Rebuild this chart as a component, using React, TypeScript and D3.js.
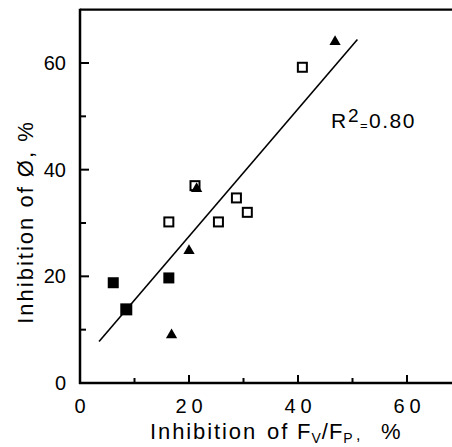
import React from "react";
import * as d3 from "d3";

const filledSquareX = [6.1, 8.4, 16.3];
const filledSquareY = [18.8, 13.9, 19.7];
const triangleX = [16.8, 20.0, 21.4, 46.8];
const triangleY = [9.0, 24.8, 36.4, 64.0];
const openSquareX = [16.3, 21.1, 25.4, 28.7, 30.7, 40.8];
const openSquareY = [30.2, 37.0, 30.2, 34.7, 32.0, 59.2];
const fitX = [3.5, 50.9];
const fitY = [7.8, 64.4];
const majorTicks = [0, 20, 40, 60];
const minorTicks = [10, 30, 50];
const rSquaredLabel = "0.80";

const W = 452;
const H = 447;
const FONT = "'Liberation Sans', Arial, Helvetica, sans-serif";

export default function App() {
  const x = d3.scaleLinear().domain([0, 60]).range([80, 407]);
  const y = d3.scaleLinear().domain([0, 60]).range([383, 63]);
  const line = d3
    .line<number>()
    .x((d) => x(d))
    .y((_, i) => y(fitY[i]));
  const tri = d3.symbol().type(d3.symbolTriangle).size(55)();
  const x0 = x(0);
  const y0 = y(0);
  const yTop = y(70);

  return (
    <svg
      width={W}
      height={H}
      style={{ position: "absolute", left: 0, top: 0, background: "#fff" }}
      fontFamily={FONT}
    >
      <rect width={W} height={H} fill="#fff" />
      {/* frame */}
      <line x1={x0} y1={yTop} x2={W} y2={yTop} stroke="#000" strokeWidth={2.2} />
      <line x1={x0} y1={yTop - 1} x2={x0} y2={y0 + 1} stroke="#000" strokeWidth={2.5} />
      <line x1={x0 - 1} y1={y0} x2={W} y2={y0} stroke="#000" strokeWidth={2.5} />
      {/* x ticks */}
      {majorTicks.slice(1).map((t) => (
        <line key={"xm" + t} x1={x(t)} x2={x(t)} y1={y0} y2={y0 - 8} stroke="#000" strokeWidth={2} />
      ))}
      {minorTicks.map((t) => (
        <line key={"xn" + t} x1={x(t)} x2={x(t)} y1={y0} y2={y0 - 5} stroke="#000" strokeWidth={2} />
      ))}
      {/* y ticks */}
      {majorTicks.slice(1).map((t) => (
        <line key={"ym" + t} x1={x0} x2={x0 + 9} y1={y(t)} y2={y(t)} stroke="#000" strokeWidth={2} />
      ))}
      {minorTicks.map((t) => (
        <line key={"yn" + t} x1={x0} x2={x0 + 6} y1={y(t)} y2={y(t)} stroke="#000" strokeWidth={2} />
      ))}
      {/* x tick labels */}
      {majorTicks.map((t) => (
        <text
          key={"xl" + t}
          x={x(t) + 2.5}
          y={413}
          fontSize={20}
          textAnchor="middle"
          letterSpacing={5}
          fill="#000"
        >
          {String(t)}
        </text>
      ))}
      {/* y tick labels */}
      {majorTicks.map((t) => (
        <text
          key={"yl" + t}
          x={66}
          y={y(t) + 7}
          fontSize={20}
          textAnchor="end"
          fill="#000"
        >
          {String(t)}
        </text>
      ))}
      {/* fit line */}
      <path d={line(fitX) || ""} fill="none" stroke="#000" strokeWidth={1.6} />
      {/* open squares */}
      {openSquareX.map((v, i) => (
        <rect
          key={"os" + i}
          x={x(v) - 4.5}
          y={y(openSquareY[i]) - 4.5}
          width={9}
          height={9}
          fill="#fff"
          stroke="#000"
          strokeWidth={2}
        />
      ))}
      {/* filled squares */}
      {filledSquareX.map((v, i) => (
        <rect
          key={"fs" + i}
          x={x(v) - 5.5}
          y={y(filledSquareY[i]) - 5.5}
          width={i === 1 ? 12 : 11}
          height={i === 1 ? 12 : 11}
          fill="#000"
        />
      ))}
      {/* triangles */}
      {triangleX.map((v, i) => (
        <path key={"tr" + i} d={tri || ""} transform={`translate(${x(v)},${y(triangleY[i])})`} fill="#000" />
      ))}
      {/* R^2 label */}
      <text x={331} y={128} fontSize={21} fill="#000">R</text>
      <text x={348} y={122} fontSize={19} fill="#000">2</text>
      <text x={360} y={130} fontSize={13} fill="#000">=</text>
      <text x={369} y={128} fontSize={21} letterSpacing={1.5} fill="#000">{rSquaredLabel}</text>
      {/* axis titles */}
      <g fill="#000">
        <text x={150} y={439} fontSize={22} letterSpacing={1.9}>Inhibition</text>
        <text x={267} y={439} fontSize={22} letterSpacing={1.9}>of</text>
        <text x={297} y={439} fontSize={22} letterSpacing={1}>
          F
          <tspan fontSize={14} dy={4}>V</tspan>
          <tspan fontSize={22} dy={-4}>/F</tspan>
          <tspan fontSize={14} dy={4}>P</tspan>
        </text>
        <text x={356} y={440} fontSize={16}>,</text>
        <text x={381} y={439} fontSize={22}>%</text>
      </g>
      <text
        transform="translate(33,222) rotate(-90)"
        fontSize={22}
        textAnchor="middle"
        letterSpacing={2.0}
        fill="#000"
      >
        Inhibition of Ø, %
      </text>
    </svg>
  );
}
